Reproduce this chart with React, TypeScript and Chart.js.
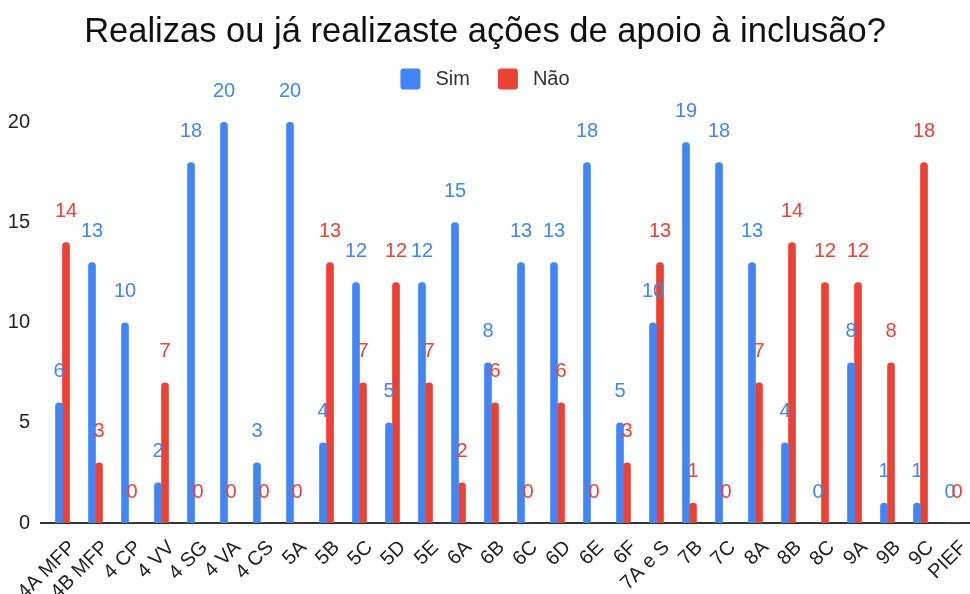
import React, { useEffect, useRef } from "react";
import { Chart, registerables } from "chart.js";

Chart.register(...registerables);

const categories = [
  "4A MFP", "4B MFP", "4 CP", "4 VV", "4 SG", "4 VA", "4 CS", "5A", "5B", "5C",
  "5D", "5E", "6A", "6B", "6C", "6D", "6E", "6F", "7A e S", "7B", "7C", "8A",
  "8B", "8C", "9A", "9B", "9C", "PIEF",
];
const simValues = [6, 13, 10, 2, 18, 20, 3, 20, 4, 12, 5, 12, 15, 8, 13, 13, 18, 5, 10, 19, 18, 13, 4, 0, 8, 1, 1, 0];
const naoValues = [14, 3, 0, 7, 0, 0, 0, 0, 13, 7, 12, 7, 2, 6, 0, 6, 0, 3, 13, 1, 0, 7, 14, 12, 12, 8, 18, 0];
const yTicks = [0, 5, 10, 15, 20];

const BLUE = "#4285F4";
const RED = "#EA4335";
const FONT = "'Liberation Sans', Arial, sans-serif";

const valueLabels = {
  id: "valueLabels",
  afterDatasetsDraw(chart: any) {
    const ctx = chart.ctx;
    ctx.save();
    ctx.font = `20px ${FONT}`;
    ctx.textAlign = "center";
    ctx.textBaseline = "middle";
    chart.data.datasets.forEach((ds: any, i: number) => {
      const meta = chart.getDatasetMeta(i);
      ctx.fillStyle = ds.backgroundColor;
      meta.data.forEach((el: any, j: number) => {
        ctx.fillText(String(ds.data[j]), el.x, el.y - 31);
      });
    });
    ctx.restore();
  },
};

const customLegend = {
  id: "customLegend",
  afterDraw(chart: any) {
    const ctx = chart.ctx;
    ctx.save();
    ctx.font = `20px ${FONT}`;
    ctx.textBaseline = "middle";
    ctx.textAlign = "left";
    const box = 20;
    const gapText = 15;
    const gapItem = 28;
    const items = chart.data.datasets.map((ds: any) => ({
      label: ds.label,
      color: ds.backgroundColor,
      w: ctx.measureText(ds.label).width,
    }));
    let total = 0;
    items.forEach((it: any, i: number) => {
      total += box + gapText + it.w + (i < items.length - 1 ? gapItem : 0);
    });
    let x = chart.width / 2 - total / 2;
    const cy = chart.titleBlock.top + 79;
    items.forEach((it: any) => {
      ctx.fillStyle = it.color;
      ctx.beginPath();
      (ctx as any).roundRect(x, cy - 10.5, box, 21, 3);
      ctx.fill();
      ctx.fillStyle = "#333";
      ctx.fillText(it.label, x + box + gapText, cy);
      x += box + gapText + it.w + gapItem;
    });
    ctx.restore();
  },
};

// extends the baseline slightly to the left of the plot, as in the reference
const baselineExt = {
  id: "baselineExt",
  afterDraw(chart: any) {
    const { ctx, chartArea } = chart;
    const y = chart.scales.y.getPixelForValue(0);
    ctx.save();
    ctx.strokeStyle = "#333";
    ctx.lineWidth = 2;
    ctx.beginPath();
    ctx.moveTo(chartArea.left - 6, y);
    ctx.lineTo(chartArea.left, y);
    ctx.stroke();
    ctx.restore();
  },
};

export default function App() {
  const ref = useRef<HTMLCanvasElement | null>(null);
  useEffect(() => {
    document.body.style.margin = "0";
    const chart = new Chart(ref.current!, {
      type: "bar",
      data: {
        labels: categories,
        datasets: [
          {
            label: "Sim",
            data: simValues,
            backgroundColor: BLUE,
            borderRadius: 4,
            borderSkipped: "start",
            barThickness: 7,
          },
          {
            label: "Não",
            data: naoValues,
            backgroundColor: RED,
            borderRadius: 4,
            borderSkipped: "start",
            barThickness: 7,
          },
        ],
      },
      options: {
        responsive: false,
        animation: false,
        layout: { padding: 0 },
        datasets: { bar: { categoryPercentage: 0.6 } } as any,
        plugins: {
          title: {
            display: true,
            text: "Realizas ou já realizaste ações de apoio à inclusão?",
            color: "#111",
            font: { family: FONT, size: 34.5, weight: "normal" },
            padding: { top: 12, bottom: 39 },
          },
          legend: { display: false },
          tooltip: { enabled: false },
        },
        scales: {
          x: {
            grid: { display: false, drawTicks: false },
            border: { display: true, color: "#333", width: 2 },
            ticks: {
              color: "#222",
              font: { family: FONT, size: 20 },
              maxRotation: 45,
              minRotation: 45,
              autoSkip: false,
              padding: 13,
              labelOffset: 10,
            },
            afterFit: (s: any) => {
              s.height = 71;
              s.paddingLeft = 0;
              s.paddingRight = 0;
            },
          },
          y: {
            min: 0,
            max: 21.5,
            grid: { display: false, drawTicks: false },
            border: { display: false },
            ticks: {
              stepSize: 5,
              includeBounds: false,
              color: "#222",
              font: { family: FONT, size: 20 },
              padding: 16,
              callback: (v: any) => (yTicks.includes(Number(v)) ? String(v) : ""),
            },
            afterFit: (s: any) => {
              s.width = 46;
            },
          },
        },
      },
      plugins: [valueLabels, customLegend, baselineExt],
    });
    return () => chart.destroy();
  }, []);
  return <canvas ref={ref} width={970} height={594} style={{ display: "block" }} />;
}
